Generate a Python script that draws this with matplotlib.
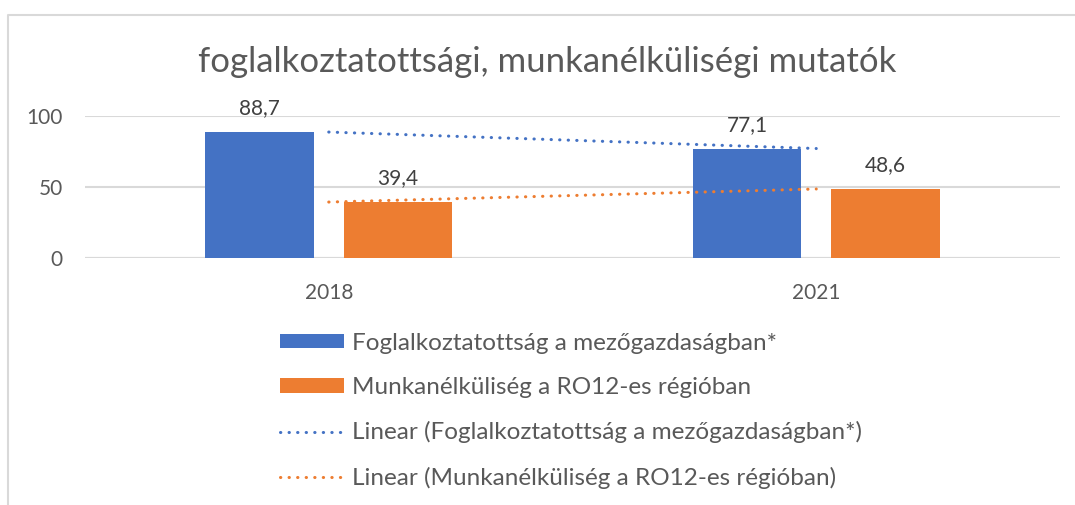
import matplotlib.pyplot as plt
from matplotlib.patches import Patch
from matplotlib.lines import Line2D
import numpy as np

# data
years = ['2018', '2021']
employment = [88.7, 77.1]
unemployment = [39.4, 48.6]
employment_name = 'Foglalkoztatottság a mezőgazdaságban*'
unemployment_name = 'Munkanélküliség a RO12-es régióban'
title = 'foglalkoztatottsági, munkanélküliségi mutatók'

BLUE = '#4472C4'
ORANGE = '#ED7D31'
TEXT = '#595959'
GRID = '#D9D9D9'

plt.rcParams['font.family'] = ['Lato', 'DejaVu Sans']

fig = plt.figure(figsize=(10.75, 5.05), dpi=100)
ax = fig.add_axes([85 / 1075, 1 - 258 / 505, 975 / 1075, 142 / 505])

x = np.arange(len(years))
width = 0.222
offset = 0.142

b1 = ax.bar(x - offset, employment, width, color=BLUE, zorder=2)
b2 = ax.bar(x + offset, unemployment, width, color=ORANGE, zorder=2)

for bars, vals in [(b1, employment), (b2, unemployment)]:
    for rect, v in zip(bars, vals):
        ax.annotate(f'{v:.1f}'.replace('.', ','), (rect.get_x() + rect.get_width() / 2, v),
                    xytext=(0, 17), textcoords='offset points', ha='center', va='center',
                    fontsize=15, color='#404040', annotation_clip=False)

# linear trendlines through the category centres
dot_style = (0, (0.1, 2.7))
for vals, col in [(employment, BLUE), (unemployment, ORANGE)]:
    coef = np.polyfit(x, vals, 1)
    ax.plot(x, np.polyval(coef, x), color=col, lw=2.2, linestyle=dot_style,
            dash_capstyle='round', zorder=3, clip_on=False)

ax.set_xlim(-0.5, 1.5)
ax.set_ylim(0, 100)
ax.set_yticks([0, 50, 100])
ax.set_xticks(x)
ax.set_xticklabels(years)
ax.yaxis.grid(True, color=GRID, lw=1.5, zorder=0)
ax.set_axisbelow(True)
for s in ax.spines.values():
    s.set_visible(False)
ax.axhline(0, color=GRID, lw=1.5, zorder=1)
ax.tick_params(axis='both', length=0, labelsize=15, colors=TEXT)
ax.tick_params(axis='y', pad=16)
ax.tick_params(axis='x', pad=18)

fig.text(547 / 1075, 1 - 62 / 505, title, ha='center', va='center', fontsize=25, color=TEXT)

handles = [
    Patch(facecolor=BLUE),
    Patch(facecolor=ORANGE),
    Line2D([0], [0], color=BLUE, lw=2.2, linestyle=dot_style, dash_capstyle='round'),
    Line2D([0], [0], color=ORANGE, lw=2.2, linestyle=dot_style, dash_capstyle='round'),
]
labels = [employment_name, unemployment_name,
          f'Linear ({employment_name})', f'Linear ({unemployment_name})']
fig.legend(handles, labels, loc='upper left', bbox_to_anchor=(270 / 1075, 1 - 323 / 505),
           frameon=False, fontsize=17.5, labelcolor=TEXT, handlelength=2.65,
           handleheight=0.52, handletextpad=0.32, labelspacing=0.96, borderaxespad=0)

# chart border (top and left edges visible)
fig.add_artist(Line2D([8 / 1075, 8 / 1075, 1], [0, 1 - 15 / 505, 1 - 15 / 505],
                      color=GRID, lw=1.5, transform=fig.transFigure))

fig.savefig('out.png', dpi=100)
